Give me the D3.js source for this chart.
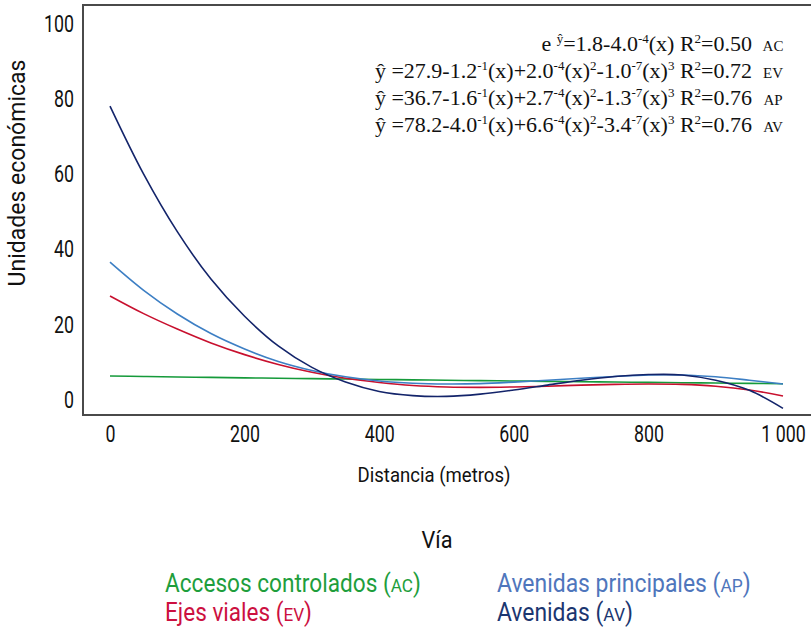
<!DOCTYPE html>
<html>
<head>
<meta charset="utf-8">
<script src="https://cdn.jsdelivr.net/npm/d3@7"></script>
<style>
  body { margin: 0; background: #fff; }
  svg { display: block; }
</style>
</head>
<body>
<div id="chart"></div>
<script>
// distance (m) and fitted values
const distances = [0, 50, 100, 150, 200, 250, 300, 350, 400, 450, 500, 550, 600, 650, 700, 750, 800, 850, 900, 950, 1000];
const seriesAC = [6.1, 6.0, 5.86, 5.75, 5.63, 5.52, 5.41, 5.3, 5.2, 5.09, 4.99, 4.89, 4.79, 4.7, 4.6, 4.51, 4.42, 4.33, 4.24, 4.16, 4.05];
const seriesEV = [27.4, 22.7, 18.6, 14.9, 11.8, 9.2, 7.1, 5.5, 4.4, 3.6, 3.2, 3.1, 3.2, 3.4, 3.7, 3.9, 4.0, 3.9, 3.4, 2.4, 0.8];
const seriesAP = [36.4, 28.9, 22.6, 17.4, 13.3, 10.0, 7.6, 5.9, 4.8, 4.2, 4.0, 4.1, 4.5, 5.0, 5.5, 6.0, 6.4, 6.4, 5.9, 5.0, 4.0];
const seriesAV = [77.9, 59.8, 44.5, 31.9, 22.0, 14.1, 8.4, 4.5, 2.0, 0.9, 0.7, 1.3, 2.4, 3.7, 5.0, 6.0, 6.5, 6.4, 5.0, 2.3, -2.5];

const xTicks = [0, 200, 400, 600, 800, 1000];
const yTicks = [0, 20, 40, 60, 80, 100];

const seriesCodes = ["AC", "EV", "AP", "AV"];
const seriesNames = ["Accesos controlados", "Ejes viales", "Avenidas principales", "Avenidas"];
const equations = [
  "e ^{ŷ}=1.8-4.0^{-4}(x) R^{2}=0.50",
  "ŷ =27.9-1.2^{-1}(x)+2.0^{-4}(x)^{2}-1.0^{-7}(x)^{3} R^{2}=0.72",
  "ŷ =36.7-1.6^{-1}(x)+2.7^{-4}(x)^{2}-1.3^{-7}(x)^{3} R^{2}=0.76",
  "ŷ =78.2-4.0^{-1}(x)+6.6^{-4}(x)^{2}-3.4^{-7}(x)^{3} R^{2}=0.76"
];

const lineColors = ["#159a3a", "#c8102e", "#3d7fc4", "#13246a"];
const legendColors = ["#1e9e3c", "#cc1040", "#4f76bc", "#1b3670"];

const width = 811;
const height = 628;
const sans = "Roboto, 'DejaVu Sans', sans-serif";

const svg = d3.select("#chart")
  .append("svg")
  .attr("width", width)
  .attr("height", height);

const x = d3.scaleLinear().domain([0, 1000]).range([110, 783]);
const y = d3.scaleLinear().domain([0, 100]).range([399, 23]);

// squeeze a text to the width it has in the picture (condensed face)
function fitText(sel, tx, ty, targetW, extra) {
  const w = sel.node().getComputedTextLength();
  const k = targetW / w;
  sel.attr("transform", "translate(" + tx + "," + ty + ")" + (extra || "") + " scale(" + k + ",1)");
}

// plot frame (right side runs off the picture)
svg.append("rect")
  .attr("x", 83).attr("y", 5)
  .attr("width", 745).attr("height", 410)
  .attr("fill", "none")
  .attr("stroke", "#4a4a4a")
  .attr("stroke-width", 2);

// axes: only labels, no tick marks
const xAxis = svg.append("g")
  .attr("transform", "translate(0,419)")
  .call(d3.axisBottom(x).tickValues(xTicks).tickSize(0).tickPadding(0)
    .tickFormat(d => d3.format(",")(d).replace(",", " ")));
xAxis.select(".domain").remove();

const yAxis = svg.append("g")
  .attr("transform", "translate(74,0)")
  .call(d3.axisLeft(y).tickValues(yTicks).tickSize(0).tickPadding(0));
yAxis.select(".domain").remove();

const tickTexts = svg.selectAll(".tick text")
  .style("font-family", sans)
  .style("font-size", "23px")
  .attr("fill", "#111");
xAxis.selectAll("text").attr("dy", "23px");
yAxis.selectAll("text").attr("dy", "0.36em");

// one squeeze factor for every tick label, from the width of "100"
const w100 = yAxis.selectAll("text").filter(d => d === 100).node().getComputedTextLength();
const kTick = 30 / w100;
tickTexts.attr("transform", "scale(" + kTick + ",1)");

// curves
const allSeries = [seriesAC, seriesEV, seriesAP, seriesAV];
const line = d3.line()
  .x((d, i) => x(distances[i]))
  .y(d => y(d))
  .curve(d3.curveCatmullRom.alpha(0.5));

allSeries.forEach((s, k) => {
  svg.append("path")
    .datum(s)
    .attr("d", line)
    .attr("fill", "none")
    .attr("stroke", lineColors[k])
    .attr("stroke-width", 1.6);
});

// equations, right aligned with a small-caps code after each
const eqBase = [51, 78, 105, 132];
equations.forEach((eq, k) => {
  const t = svg.append("text")
    .attr("x", 752)
    .attr("y", eqBase[k])
    .attr("text-anchor", "end")
    .style("font-family", "'Liberation Serif', 'Times New Roman', serif")
    .style("font-size", "22px")
    .attr("fill", "#111");
  const parts = eq.split(/\^\{([^}]*)\}/);
  let up = false;
  parts.forEach((p, i) => {
    if (p === "") return;
    const sup = i % 2 === 1;
    const ts = t.append("tspan").text(p);
    if (sup) {
      ts.style("font-size", "13px").attr("dy", up ? 0 : -8);
      up = true;
    } else {
      ts.attr("dy", up ? 8 : 0);
      up = false;
    }
  });
  svg.append("text")
    .attr("x", 773)
    .attr("y", eqBase[k])
    .attr("text-anchor", "middle")
    .style("font-family", "'Liberation Serif', 'Times New Roman', serif")
    .style("font-size", "15px")
    .attr("fill", "#111")
    .text(seriesCodes[k]);
});

// axis titles
const yTitle = svg.append("text")
  .attr("text-anchor", "middle")
  .style("font-family", sans)
  .style("font-size", "24px")
  .attr("fill", "#111")
  .text("Unidades económicas");
fitText(yTitle, 25, 173, 227, " rotate(-90)");

const xTitle = svg.append("text")
  .attr("text-anchor", "middle")
  .style("font-family", sans)
  .style("font-size", "20px")
  .attr("fill", "#111")
  .text("Distancia (metros)");
fitText(xTitle, 434, 482, 153);

// legend
const viaTitle = svg.append("text")
  .attr("text-anchor", "middle")
  .style("font-family", sans)
  .style("font-size", "24px")
  .attr("fill", "#111")
  .text("Vía");
fitText(viaTitle, 437, 548, 31);

const legendPos = [[165, 592], [165, 621], [497, 592], [497, 621]];
const legendW = [256, 147, 254, 136];
seriesNames.forEach((name, k) => {
  const t = svg.append("text")
    .style("font-family", sans)
    .style("font-size", "25px")
    .attr("fill", legendColors[k]);
  t.append("tspan").text(name + " (");
  t.append("tspan").style("font-size", "19px").text(seriesCodes[k]);
  t.append("tspan").text(")");
  fitText(t, legendPos[k][0], legendPos[k][1], legendW[k]);
});
</script>
</body>
</html>
